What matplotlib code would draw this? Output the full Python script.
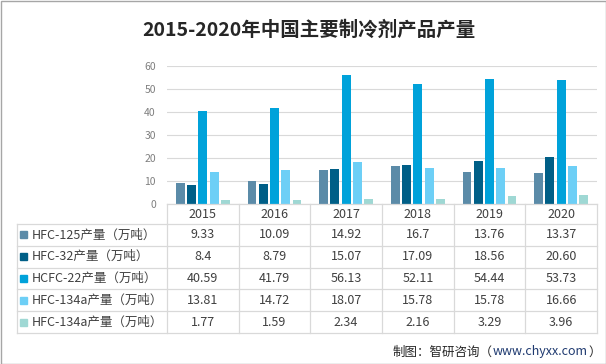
import matplotlib
matplotlib.use("Agg")
import matplotlib.pyplot as plt
from matplotlib.patches import Rectangle

plt.rcParams['font.family'] = ['Noto Sans CJK SC', 'DejaVu Sans']

# --- Données ---
years = ["2015", "2016", "2017", "2018", "2019", "2020"]
series_names = ["HFC-125产量（万吨）", "HFC-32产量（万吨）", "HCFC-22产量（万吨）",
                "HFC-134a产量（万吨）", "HFC-134a产量（万吨）"]
hfc125 = [9.33, 10.09, 14.92, 16.7, 13.76, 13.37]
hfc32 = [8.4, 8.79, 15.07, 17.09, 18.56, 20.60]
hcfc22 = [40.59, 41.79, 56.13, 52.11, 54.44, 53.73]
hfc134a = [13.81, 14.72, 18.07, 15.78, 15.78, 16.66]
other = [1.77, 1.59, 2.34, 2.16, 3.29, 3.96]
labels_txt = [["9.33", "10.09", "14.92", "16.7", "13.76", "13.37"],
              ["8.4", "8.79", "15.07", "17.09", "18.56", "20.60"],
              ["40.59", "41.79", "56.13", "52.11", "54.44", "53.73"],
              ["13.81", "14.72", "18.07", "15.78", "15.78", "16.66"],
              ["1.77", "1.59", "2.34", "2.16", "3.29", "3.96"]]
yticks = [0, 10, 20, 30, 40, 50, 60]

colors = ["#5b8ba8", "#005f87", "#00a2da", "#6dcff6", "#9fd8d4"]
series = [hfc125, hfc32, hcfc22, hfc134a, other]

W, H = 606, 364
fig = plt.figure(figsize=(W / 100, H / 100), dpi=100)

# zone du graphique (en pixels)
x0, x1 = 167, 597
y_zero, y_top = 204, 66
ax = fig.add_axes([x0 / W, (H - y_zero) / H, (x1 - x0) / W, (y_zero - y_top) / H])

step = 0.157
width = 0.125
for i, (vals, c) in enumerate(zip(series, colors)):
    pos = [k + (i - 2) * step for k in range(len(years))]
    ax.bar(pos, vals, width=width, color=c, zorder=3)

ax.set_xlim(-0.5, len(years) - 0.5)
ax.set_ylim(0, 60)
ax.set_yticks(yticks)
ax.set_xticks([])
ax.tick_params(axis="y", length=0, labelsize=7.5, labelcolor="#7f7f7f", pad=8)
ax.grid(axis="y", color="#d9d9d9", linewidth=0.8, zorder=0)
for s in ax.spines.values():
    s.set_visible(False)

# --- Tableau ---
ov = fig.add_axes([0, 0, 1, 1])
ov.set_xlim(0, W)
ov.set_ylim(H, 0)
ov.axis("off")

lc = "#d9d9d9"
txt = "#404040"
fs = 9
colw = (x1 - x0) / len(years)
left = 17
row_top = 224
row_h = 21.8
nrows = len(series)
bottom = row_top + nrows * row_h

ov.plot([x0, x1], [y_zero, y_zero], color=lc, lw=0.9)
for r in range(nrows + 1):
    yy = row_top + r * row_h
    ov.plot([left, x1], [yy, yy], color=lc, lw=0.9)
for k in range(len(years) + 1):
    xx = x0 + k * colw
    ov.plot([xx, xx], [y_zero, bottom], color=lc, lw=0.9)
ov.plot([left, left], [row_top, bottom], color=lc, lw=0.9)

for k, yr in enumerate(years):
    ov.text(x0 + (k + 0.5) * colw, (y_zero + row_top) / 2, yr, ha="center",
            va="center", fontsize=fs, color=txt)

for r in range(nrows):
    yc = row_top + (r + 0.5) * row_h
    ov.add_patch(Rectangle((20, yc - 3.5), 7, 7, color=colors[r]))
    ov.text(32, yc, series_names[r], ha="left", va="center", fontsize=fs, color=txt)
    for k in range(len(years)):
        ov.text(x0 + (k + 0.5) * colw, yc, labels_txt[r][k], ha="center",
                va="center", fontsize=fs, color=txt)

# --- Titre et source ---
ov.text(309, 30, "2015-2020年中国主要制冷剂产品产量", ha="center", va="center",
        fontsize=14, fontweight="bold", color="#262626")
t1 = ov.text(393, 352, "制图：智研咨询（", ha="left", va="center",
             fontsize=9, color="#262626")
fig.canvas.draw()
bb = t1.get_window_extent().transformed(ov.transData.inverted())
t2 = ov.text(bb.x1, 352, "www.chyxx.com", ha="left", va="center",
             fontsize=9, color="#1f3a70")
bb2 = t2.get_window_extent().transformed(ov.transData.inverted())
ov.text(bb2.x1, 352, "）", ha="left", va="center", fontsize=9, color="#262626")

# cadre
ov.add_patch(Rectangle((0.5, 0.5), W - 1, H - 1, fill=False, edgecolor="#a6a6a6", lw=1))

plt.savefig("out.png", dpi=100)
